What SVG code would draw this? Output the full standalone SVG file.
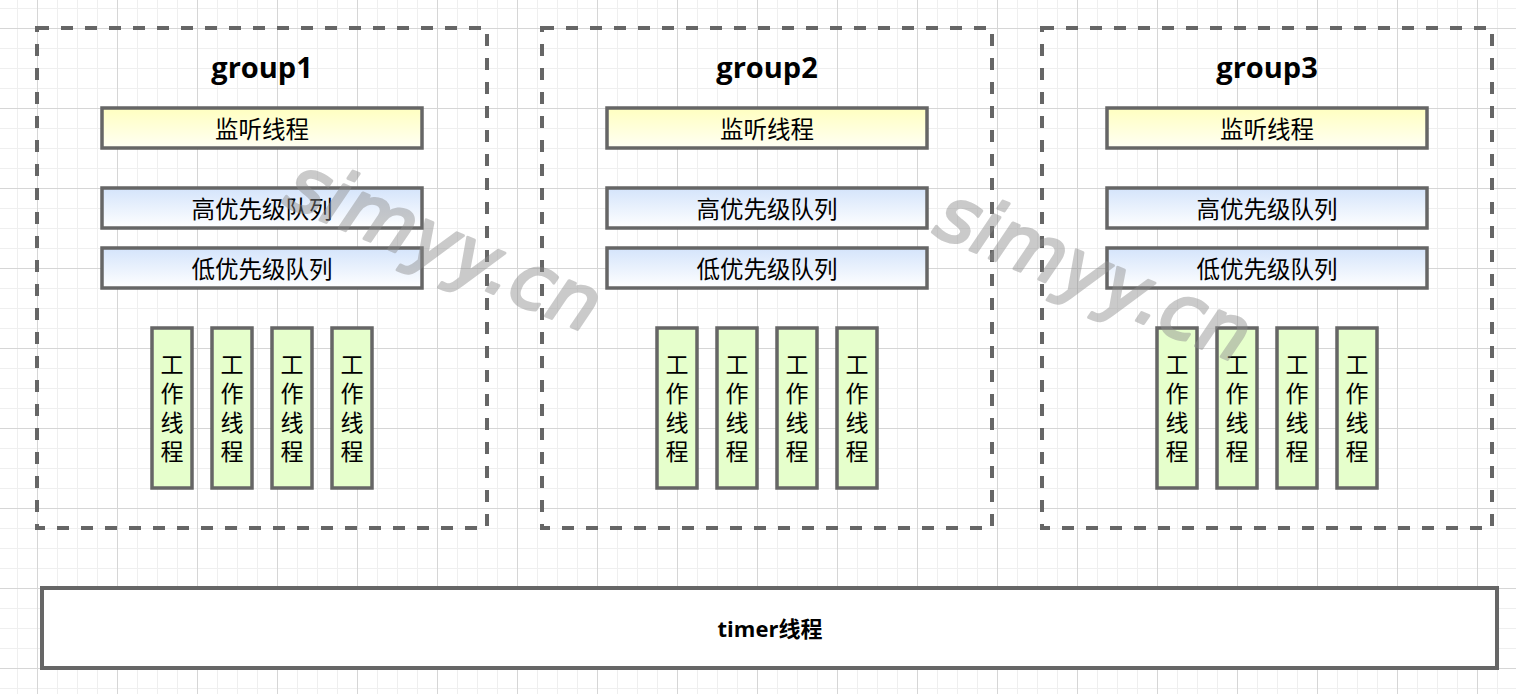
<svg xmlns="http://www.w3.org/2000/svg" width="1516" height="694" viewBox="0 0 1516 694">
<defs>
<pattern id="grid" patternUnits="userSpaceOnUse" x="37" y="28" width="80" height="80">
<rect width="80" height="80" fill="#ffffff"/>
<path d="M20.5 0V80M40.5 0V80M60.5 0V80M0 20.5H80M0 40.5H80M0 60.5H80" stroke="#efefef" stroke-width="1" fill="none"/>
<path d="M0.5 0V80M0 0.5H80" stroke="#d6d6d6" stroke-width="1" fill="none"/>
</pattern>
<linearGradient id="gYellow" x1="0" y1="0" x2="0" y2="1">
<stop offset="0" stop-color="#ffffc0"/>
<stop offset="1" stop-color="#fffff4"/>
</linearGradient>
<linearGradient id="gBlue" x1="0" y1="0" x2="0" y2="1">
<stop offset="0" stop-color="#d4e4fb"/>
<stop offset="1" stop-color="#ffffff"/>
</linearGradient>
</defs>
<style>
.grp{fill:none;stroke:#666666;stroke-width:4;stroke-dasharray:12 12}
.mon{fill:url(#gYellow);stroke:#666666;stroke-width:3.5}
.que{fill:url(#gBlue);stroke:#666666;stroke-width:3.5}
.wrk{fill:#e6ffcc;stroke:#666666;stroke-width:3.5}
.tmr{fill:#ffffff;stroke:#666666;stroke-width:4}
.cjk{font-family:"Noto Sans CJK SC","Noto Sans",sans-serif;font-size:23.5px;fill:#000000;text-anchor:middle;dominant-baseline:central}
.vt{font-family:"Noto Sans CJK SC","Noto Sans",sans-serif;font-size:23px;fill:#000000;text-anchor:middle;writing-mode:vertical-rl;letter-spacing:6px}
.ttl{font-family:"Open Sans","DejaVu Sans",sans-serif;font-weight:bold;font-size:29px;fill:#000000;text-anchor:middle}
.tmt{font-family:"Open Sans","Noto Sans CJK SC",sans-serif;font-weight:bold;font-size:22px;fill:#000000;text-anchor:middle;dominant-baseline:central}
.wm{font-family:"DejaVu Sans",sans-serif;font-style:italic;font-size:76px;fill:#8c8c8c;stroke:#8c8c8c;stroke-width:3;stroke-linejoin:round;opacity:0.45;text-anchor:middle}
</style>
<rect x="0" y="0" width="1516" height="694" fill="url(#grid)"/>

<g id="group1">
<rect class="grp" x="37" y="28" width="450" height="500"/>
<text class="ttl" x="262" y="78">group1</text>
<g id="g1-monitor"><rect class="mon" x="102" y="108" width="320" height="40"/><text class="cjk" x="262" y="128">监听线程</text></g>
<g id="g1-high"><rect class="que" x="102" y="188" width="320" height="40"/><text class="cjk" x="262" y="208">高优先级队列</text></g>
<g id="g1-low"><rect class="que" x="102" y="248" width="320" height="40"/><text class="cjk" x="262" y="268">低优先级队列</text></g>
<g id="g1-w1"><rect class="wrk" x="152" y="328" width="40" height="160"/><text class="vt" x="172" y="411">工作线程</text></g>
<g id="g1-w2"><rect class="wrk" x="212" y="328" width="40" height="160"/><text class="vt" x="232" y="411">工作线程</text></g>
<g id="g1-w3"><rect class="wrk" x="272" y="328" width="40" height="160"/><text class="vt" x="292" y="411">工作线程</text></g>
<g id="g1-w4"><rect class="wrk" x="332" y="328" width="40" height="160"/><text class="vt" x="352" y="411">工作线程</text></g>
</g>

<g id="group2">
<rect class="grp" x="542" y="28" width="450" height="500"/>
<text class="ttl" x="767" y="78">group2</text>
<g id="g2-monitor"><rect class="mon" x="607" y="108" width="320" height="40"/><text class="cjk" x="767" y="128">监听线程</text></g>
<g id="g2-high"><rect class="que" x="607" y="188" width="320" height="40"/><text class="cjk" x="767" y="208">高优先级队列</text></g>
<g id="g2-low"><rect class="que" x="607" y="248" width="320" height="40"/><text class="cjk" x="767" y="268">低优先级队列</text></g>
<g id="g2-w1"><rect class="wrk" x="657" y="328" width="40" height="160"/><text class="vt" x="677" y="411">工作线程</text></g>
<g id="g2-w2"><rect class="wrk" x="717" y="328" width="40" height="160"/><text class="vt" x="737" y="411">工作线程</text></g>
<g id="g2-w3"><rect class="wrk" x="777" y="328" width="40" height="160"/><text class="vt" x="797" y="411">工作线程</text></g>
<g id="g2-w4"><rect class="wrk" x="837" y="328" width="40" height="160"/><text class="vt" x="857" y="411">工作线程</text></g>
</g>

<g id="group3">
<rect class="grp" x="1042" y="28" width="450" height="500"/>
<text class="ttl" x="1267" y="78">group3</text>
<g id="g3-monitor"><rect class="mon" x="1107" y="108" width="320" height="40"/><text class="cjk" x="1267" y="128">监听线程</text></g>
<g id="g3-high"><rect class="que" x="1107" y="188" width="320" height="40"/><text class="cjk" x="1267" y="208">高优先级队列</text></g>
<g id="g3-low"><rect class="que" x="1107" y="248" width="320" height="40"/><text class="cjk" x="1267" y="268">低优先级队列</text></g>
<g id="g3-w1"><rect class="wrk" x="1157" y="328" width="40" height="160"/><text class="vt" x="1177" y="411">工作线程</text></g>
<g id="g3-w2"><rect class="wrk" x="1217" y="328" width="40" height="160"/><text class="vt" x="1237" y="411">工作线程</text></g>
<g id="g3-w3"><rect class="wrk" x="1277" y="328" width="40" height="160"/><text class="vt" x="1297" y="411">工作线程</text></g>
<g id="g3-w4"><rect class="wrk" x="1337" y="328" width="40" height="160"/><text class="vt" x="1357" y="411">工作线程</text></g>
</g>

<g id="timer">
<rect class="tmr" x="42" y="588" width="1455" height="80"/>
<text class="tmt" x="770" y="628">timer线程</text>
</g>

<g id="connectors"></g>

<g id="watermark">
<text class="wm" transform="translate(442 250) rotate(23)" x="0" y="20">simyy.cn</text>
<text class="wm" transform="translate(1092 280) rotate(23)" x="0" y="20">simyy.cn</text>
</g>
</svg>
